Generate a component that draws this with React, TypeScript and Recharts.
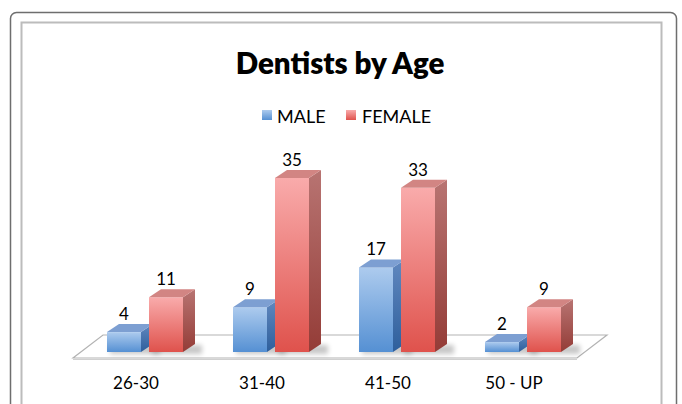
import React from 'react';
import { BarChart, Bar, XAxis, YAxis, LabelList } from 'recharts';

// chart values
const ageGroups = ['26-30', '31-40', '41-50', '50 - UP'];
const maleCounts = [4, 9, 17, 2];
const femaleCounts = [11, 35, 33, 9];
const seriesNames = ['MALE', 'FEMALE'];

const data = ageGroups.map((age, i) => ({
  age,
  male: maleCounts[i],
  female: femaleCounts[i],
}));

const FONT = 'Lato, "Open Sans", sans-serif';

// depth of each 3D box
const DX = 12;
const DY = -8;

const palettes: Record<string, { top: string; side: string }> = {
  male: { top: '#7d9fd2', side: 'url(#maleSide)' },
  female: { top: '#d28583', side: 'url(#femaleSide)' },
};

const Box3D = (props: any) => {
  const { x, y, width, height, series } = props;
  if (height == null || width == null) return null;
  const p = palettes[series];
  const b = y + height;
  return (
    <g>
      <rect
        x={x + 3}
        y={b - 7}
        width={width + DX + 4}
        height={9}
        fill="#000"
        opacity={0.22}
        filter="url(#shadowBlur)"
      />
      <rect x={x} y={y} width={width} height={height} fill={`url(#${series}Front)`} />
      <polygon
        points={`${x + width},${y} ${x + width + DX},${y + DY} ${x + width + DX},${b + DY} ${x + width},${b}`}
        fill={p.side}
      />
      <polygon
        points={`${x},${y} ${x + DX},${y + DY} ${x + width + DX},${y + DY} ${x + width},${y}`}
        fill={p.top}
      />
    </g>
  );
};

const ValueLabel = (props: any) => {
  const { x, y, width, value } = props;
  return (
    <text
      x={x + width / 2}
      y={y - 12}
      textAnchor="middle"
      fontSize={17}
      fontFamily={FONT}
      fill="#000"
    >
      {value}
    </text>
  );
};

const Backdrop = () => (
  <svg width={682} height={404} style={{ position: 'absolute', left: 0, top: 0 }}>
    <defs>
      <linearGradient id="maleFront" x1="0" y1="0" x2="0" y2="1">
        <stop offset="0%" stopColor="#adcbee" />
        <stop offset="100%" stopColor="#5590d3" />
      </linearGradient>
      <linearGradient id="femaleFront" x1="0" y1="0" x2="0" y2="1">
        <stop offset="0%" stopColor="#f9abab" />
        <stop offset="100%" stopColor="#df524c" />
      </linearGradient>
      <linearGradient id="maleSide" x1="0" y1="0" x2="0" y2="1">
        <stop offset="0%" stopColor="#6188bf" />
        <stop offset="100%" stopColor="#2e5f9c" />
      </linearGradient>
      <linearGradient id="femaleSide" x1="0" y1="0" x2="0" y2="1">
        <stop offset="0%" stopColor="#b87472" />
        <stop offset="100%" stopColor="#943c37" />
      </linearGradient>
      <filter id="shadowBlur" x="-30%" y="-100%" width="160%" height="300%">
        <feGaussianBlur stdDeviation="2.5" />
      </filter>
    </defs>
    <rect x={10.5} y={12.5} width={666} height={440} rx={6} fill="#fff" stroke="#6e6e6e" strokeWidth={1.5} />
    <rect x={21.5} y={22.5} width={640} height={420} fill="#fff" stroke="#bcbcbc" strokeWidth={2} />
    <text x={340} y={74} textAnchor="middle" fontSize={29.5} fontWeight={800} fontFamily={FONT} fill="#000">
      Dentists by Age
    </text>
    <rect x={262} y={110} width={10} height={10} fill="url(#maleFront)" />
    <text x={277} y={123} fontSize={18} fontFamily={FONT} fill="#000">
      {seriesNames[0]}
    </text>
    <rect x={346} y={110} width={10} height={10} fill="url(#femaleFront)" />
    <text x={362} y={123} fontSize={18} fontFamily={FONT} fill="#000">
      {seriesNames[1]}
    </text>
    <polygon points="73,358 577,358 607,335 103,335" fill="#fff" stroke="#b3b3b3" strokeWidth={1.2} />
    <line x1={73} y1={359.5} x2={577} y2={359.5} stroke="#d0d0d0" strokeWidth={1} />
  </svg>
);

export default function App() {
  return (
    <div
      style={{
        position: 'absolute',
        left: 0,
        top: 0,
        width: 682,
        height: 404,
        overflow: 'hidden',
        background: '#fff',
      }}
    >
      <Backdrop />
      <div style={{ position: 'absolute', left: 0, top: 0 }}>
        <BarChart
          width={682}
          height={404}
          data={data}
          margin={{ top: 153, right: 96, bottom: 22, left: 82 }}
          barSize={34}
          barGap={8}
        >
          <XAxis
            dataKey="age"
            axisLine={false}
            tickLine={false}
            height={30}
            tickMargin={19}
            dx={-9}
            interval={0}
            tick={{ fontSize: 17, fill: '#000', fontFamily: FONT }}
          />
          <YAxis hide domain={[0, 40]} />
          <Bar
            dataKey="male"
            name={seriesNames[0]}
            isAnimationActive={false}
            shape={(p: any) => <Box3D {...p} series="male" />}
          >
            <LabelList dataKey="male" content={<ValueLabel />} />
          </Bar>
          <Bar
            dataKey="female"
            name={seriesNames[1]}
            isAnimationActive={false}
            shape={(p: any) => <Box3D {...p} series="female" />}
          >
            <LabelList dataKey="female" content={<ValueLabel />} />
          </Bar>
        </BarChart>
      </div>
    </div>
  );
}
